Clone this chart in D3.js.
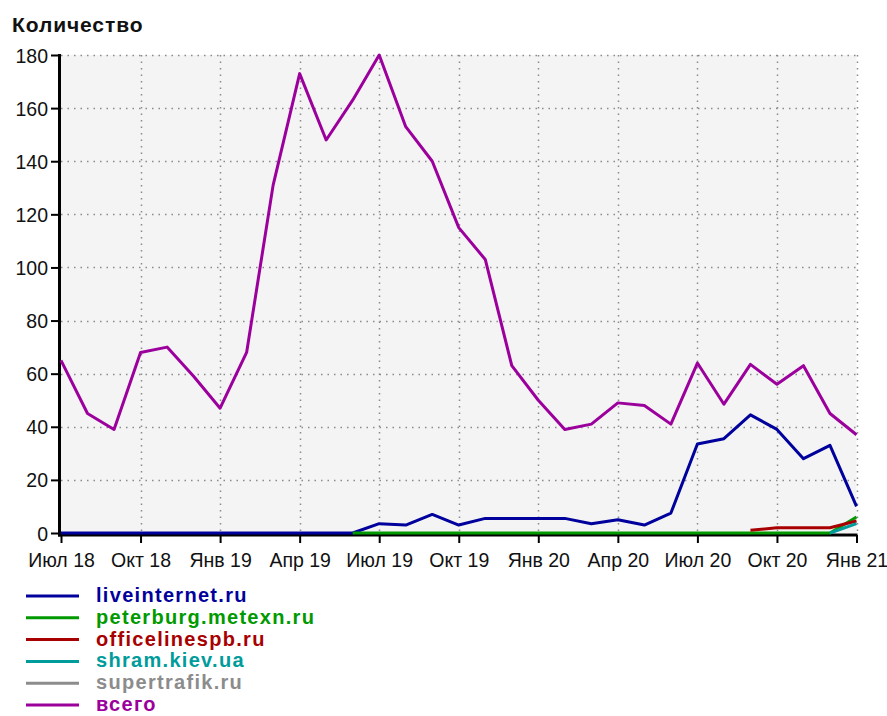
<!DOCTYPE html>
<html lang="ru">

<head>
    <meta charset="UTF-8">
    <title>Количество</title>
    <style>
        body {
            margin: 0;
            padding: 0;
            background: #fff;
            overflow: hidden;
        }

        text {
            font-family: "Liberation Sans", Arial, sans-serif;
        }
    </style>
</head>

<body>
    <script src="https://d3js.org/d3.v7.min.js"></script>
    <script>
        // Months from Jul 2018 to Jan 2021, one point per month
        const months = d3.range(31);
        const tickIndex = [0, 3, 6, 9, 12, 15, 18, 21, 24, 27, 30];
        const tickLabels = ["Июл 18", "Окт 18", "Янв 19", "Апр 19", "Июл 19", "Окт 19",
            "Янв 20", "Апр 20", "Июл 20", "Окт 20", "Янв 21"];
        const yTicks = [0, 20, 40, 60, 80, 100, 120, 140, 160, 180];

        const seriesNames = ["liveinternet.ru", "peterburg.metexn.ru", "officelinespb.ru",
            "shram.kiev.ua", "supertrafik.ru", "всего"];
        const seriesColors = ["#00009c", "#009a00", "#a80000", "#009c9c", "#8c8c8c", "#9c009c"];

        const _ = null;
        const liveinternet = [0, 0, 0, 0, 0, 0, 0, 0, 0, 0, 0, 0, 3.5, 3, 7, 3, 5.5, 5.5, 5.5, 5.5,
            3.5, 5, 3, 7.5, 33.5, 35.5, 44.5, 39, 28, 33, 10];
        const peterburg = [_, _, _, _, _, _, _, _, _, _, _, 0, 0, 0, 0, 0, 0, 0, 0, 0,
            0, 0, 0, 0, 0, 0, 0, 0, 0, 0, 6];
        const officeline = [_, _, _, _, _, _, _, _, _, _, _, _, _, _, _, _, _, _, _, _,
            _, _, _, _, _, _, 1, 2, 2, 2, 4.5];
        const shram = [_, _, _, _, _, _, _, _, _, _, _, _, _, _, _, _, _, _, _, _,
            _, _, _, _, _, _, _, _, _, 0, 3.5];
        const supertrafik = [_, _, _, _, _, _, _, _, _, _, _, _, _, _, _, _, _, _, _, _,
            _, _, _, _, _, _, _, _, _, _, _];
        const total = [65, 45, 39, 68, 70, 59, 47, 68, 131, 173, 148, 163, 180, 153, 140, 115, 103, 63,
            50, 39, 41, 49, 48, 41, 64, 48.5, 63.5, 56, 63, 45, 37];

        const allSeries = [liveinternet, peterburg, officeline, shram, supertrafik, total];

        const width = 887;
        const height = 716;

        const svg = d3.select("body").append("svg")
            .attr("width", width)
            .attr("height", height);

        const x = d3.scaleLinear().domain([0, 30]).range([61, 856.5]);
        const y = d3.scaleLinear().domain([0, 180]).range([533, 55]);

        // plot background
        svg.append("rect")
            .attr("x", x(0))
            .attr("y", y(180))
            .attr("width", x(30) - x(0))
            .attr("height", y(0) - y(180))
            .attr("fill", "#f4f4f4");

        // dotted grid
        svg.append("g").selectAll("line")
            .data(yTicks.filter(d => d > 0))
            .join("line")
            .attr("x1", x(0))
            .attr("x2", x(30))
            .attr("y1", d => Math.round(y(d)) + 0.5)
            .attr("y2", d => Math.round(y(d)) + 0.5)
            .attr("stroke", "#8a8a8a")
            .attr("stroke-width", 1.5)
            .attr("stroke-dasharray", "1.5,5");

        svg.append("g").selectAll("line")
            .data(tickIndex.filter(d => d > 0))
            .join("line")
            .attr("x1", d => Math.round(x(d)) + 0.5)
            .attr("x2", d => Math.round(x(d)) + 0.5)
            .attr("y1", y(180))
            .attr("y2", y(0))
            .attr("stroke", "#8a8a8a")
            .attr("stroke-width", 1.5)
            .attr("stroke-dasharray", "1.5,5");

        // axes
        const yAxis = d3.axisLeft(y).tickValues(yTicks).tickSize(8).tickPadding(3);
        const gy = svg.append("g")
            .attr("transform", "translate(59,0)")
            .call(yAxis);
        gy.select(".domain").remove();
        gy.selectAll(".tick line").attr("stroke", "#000").attr("stroke-width", 2);
        gy.selectAll(".tick text")
            .attr("font-size", 19.5)
            .attr("font-family", "Liberation Sans, Arial, sans-serif")
            .attr("fill", "#111")
            .attr("dy", "0.36em");

        const xAxis = d3.axisBottom(x)
            .tickValues(tickIndex)
            .tickFormat((d, i) => tickLabels[i])
            .tickSize(8)
            .tickPadding(6);
        const gx = svg.append("g")
            .attr("transform", "translate(0,535)")
            .call(xAxis);
        gx.select(".domain").remove();
        gx.selectAll(".tick line").attr("stroke", "#000").attr("stroke-width", 2);
        gx.selectAll(".tick text")
            .attr("font-size", 19.5)
            .attr("font-family", "Liberation Sans, Arial, sans-serif")
            .attr("fill", "#111")
            .attr("dy", "0.9em");

        // thick axis lines
        svg.append("line")
            .attr("x1", 59.5).attr("x2", 59.5)
            .attr("y1", y(180) - 1).attr("y2", 536.5)
            .attr("stroke", "#000").attr("stroke-width", 3);
        svg.append("line")
            .attr("x1", 58).attr("x2", x(30) + 1)
            .attr("y1", 535).attr("y2", 535)
            .attr("stroke", "#000").attr("stroke-width", 3);

        // series lines
        const line = d3.line()
            .defined(d => d != null)
            .x((d, i) => x(months[i]))
            .y(d => y(d));

        svg.append("g").selectAll("path")
            .data(allSeries)
            .join("path")
            .attr("d", d => line(d))
            .attr("fill", "none")
            .attr("stroke", (d, i) => seriesColors[i])
            .attr("stroke-width", 3)
            .attr("stroke-linejoin", "round");

        // title
        svg.append("text")
            .attr("x", 12)
            .attr("y", 32)
            .attr("font-size", 21)
            .attr("font-weight", "bold")
            .attr("letter-spacing", 0.9)
            .attr("fill", "#111")
            .text("Количество");

        // legend
        const legend = svg.append("g").selectAll("g")
            .data(seriesNames)
            .join("g")
            .attr("transform", (d, i) => `translate(0,${595 + i * 21.8})`);

        legend.append("line")
            .attr("x1", 26).attr("x2", 79)
            .attr("y1", 1).attr("y2", 1)
            .attr("stroke", (d, i) => seriesColors[i])
            .attr("stroke-width", 3);

        legend.append("text")
            .attr("x", 96)
            .attr("y", 7)
            .attr("font-size", 20)
            .attr("font-weight", "bold")
            .attr("letter-spacing", 1.3)
            .attr("fill", (d, i) => seriesColors[i])
            .text(d => d);
    </script>
</body>

</html>
